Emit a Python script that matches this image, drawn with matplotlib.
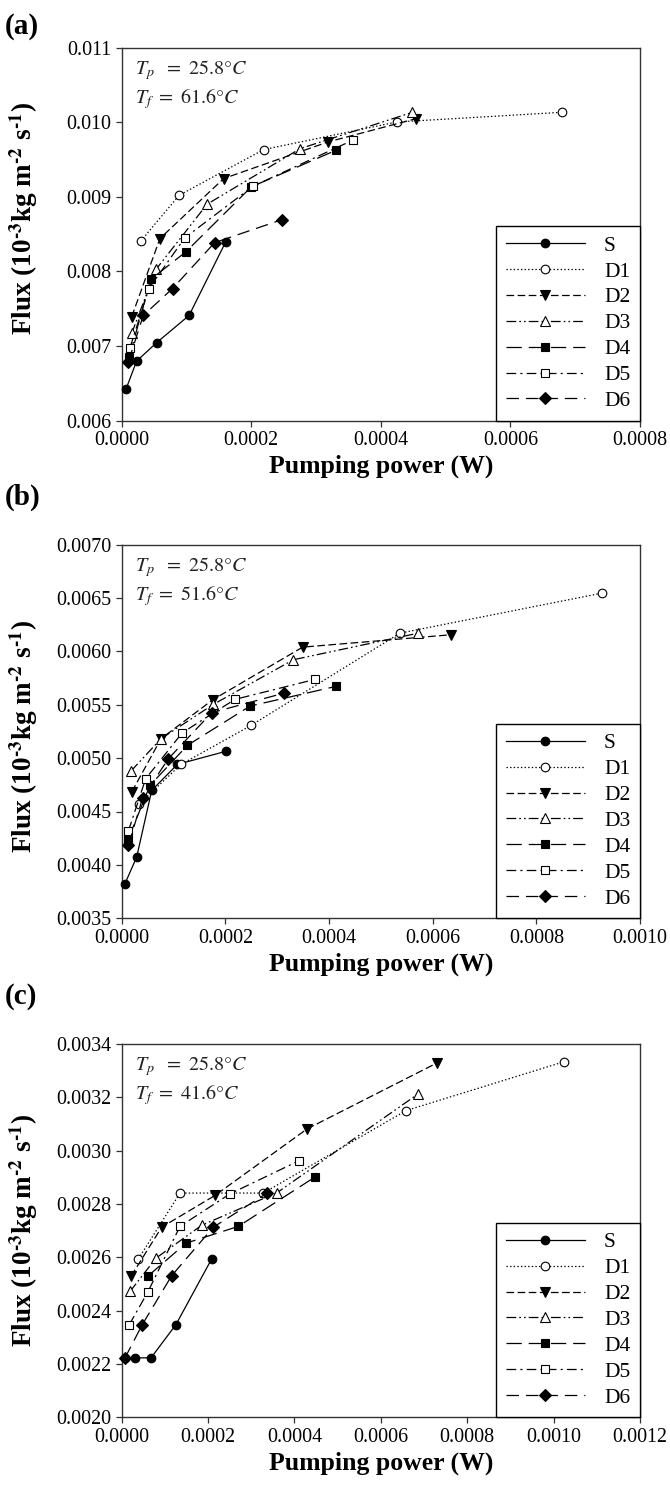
import matplotlib
matplotlib.use("Agg")
import matplotlib.pyplot as plt
from matplotlib.ticker import FormatStrFormatter, MultipleLocator

plt.rcParams["font.family"] = ["Liberation Serif", "DejaVu Serif"]
plt.rcParams["mathtext.fontset"] = "stix"
plt.rcParams["lines.scale_dashes"] = False

series = ["S", "D1", "D2", "D3", "D4", "D5", "D6"]

# ---- (a) Tf = 61.6 C ----
power_a = {
    "S":  [0.0000067, 0.000023, 0.0000538, 0.000104, 0.0001605],
    "D1": [0.0000292, 0.0000887, 0.000219, 0.0004246, 0.000679],
    "D2": [0.0000154, 0.000059, 0.0001574, 0.0003185, 0.000455],
    "D3": [0.0000154, 0.0000528, 0.0001318, 0.0002754, 0.0004487],
    "D4": [0.0000118, 0.0000446, 0.000099, 0.0002, 0.0003308],
    "D5": [0.0000128, 0.000042, 0.0000974, 0.0002026, 0.0003564],
    "D6": [0.0000103, 0.0000333, 0.0000785, 0.0001436, 0.0002477],
}
flux_a = {
    "S":  [0.006424, 0.006799, 0.007045, 0.007411, 0.008397],
    "D1": [0.008406, 0.009022, 0.009634, 0.010004, 0.010134],
    "D2": [0.007393, 0.008442, 0.009246, 0.009737, 0.010050],
    "D3": [0.007170, 0.008027, 0.008902, 0.009647, 0.010134],
    "D4": [0.006857, 0.007893, 0.008263, 0.009134, 0.009625],
    "D5": [0.006978, 0.007772, 0.008451, 0.009143, 0.009759],
    "D6": [0.006790, 0.007411, 0.007772, 0.008388, 0.008696],
}

# ---- (b) Tf = 51.6 C ----
power_b = {
    "S":  [0.0000064, 0.0000289, 0.0000579, 0.0001074, 0.0002006],
    "D1": [0.0000341, 0.0001145, 0.0002495, 0.000537, 0.000926],
    "D2": [0.0000193, 0.0000759, 0.0001756, 0.0003492, 0.0006354],
    "D3": [0.000018, 0.0000759, 0.0001768, 0.0003312, 0.0005723],
    "D4": [0.0000129, 0.0000547, 0.0001267, 0.0002476, 0.0004129],
    "D5": [0.0000129, 0.0000463, 0.000117, 0.0002186, 0.000373],
    "D6": [0.0000129, 0.0000405, 0.00009, 0.0001736, 0.0003138],
}
flux_b = {
    "S":  [0.003825, 0.004074, 0.004698, 0.004941, 0.005063],
    "D1": [0.004573, 0.004941, 0.005306, 0.006170, 0.006544],
    "D2": [0.004683, 0.005182, 0.005546, 0.006039, 0.006155],
    "D3": [0.004879, 0.005182, 0.005503, 0.005921, 0.006170],
    "D4": [0.004246, 0.004745, 0.005119, 0.005487, 0.005671],
    "D5": [0.004318, 0.004807, 0.005238, 0.005550, 0.005737],
    "D6": [0.004183, 0.004629, 0.004994, 0.005425, 0.005609],
}

# ---- (c) Tf = 41.6 C ----
power_c = {
    "S":  [0.0000077, 0.0000309, 0.0000679, 0.0001257, 0.0002083],
    "D1": [0.0000386, 0.000135, 0.0003278, 0.000658, 0.001025],
    "D2": [0.0000216, 0.0000926, 0.000216, 0.0004296, 0.0007289],
    "D3": [0.0000193, 0.0000794, 0.0001851, 0.0003602, 0.0006865],
    "D4": [0.0000617, 0.0001489, 0.00027, 0.0004474],
    "D5": [0.0000177, 0.0000602, 0.000135, 0.0002507, 0.0004103],
    "D6": [0.0000077, 0.0000478, 0.0001157, 0.0002121, 0.0003371],
}
flux_c = {
    "S":  [0.002223, 0.002223, 0.002223, 0.002348, 0.002594],
    "D1": [0.002594, 0.002841, 0.002841, 0.003150, 0.003334],
    "D2": [0.002529, 0.002713, 0.002832, 0.003082, 0.003328],
    "D3": [0.002472, 0.002597, 0.002720, 0.002843, 0.003213],
    "D4": [0.002531, 0.002653, 0.002716, 0.002901],
    "D5": [0.002348, 0.002469, 0.002716, 0.002838, 0.002962],
    "D6": [0.002223, 0.002348, 0.002531, 0.002713, 0.002841],
}

panel_letters = ["(a)", "(b)", "(c)"]
feed_temps = ["61.6", "51.6", "41.6"]
perm_temp = "25.8"
x_limits = [(0, 0.0008), (0, 0.0010), (0, 0.0012)]
y_limits = [(0.006, 0.011), (0.0035, 0.0070), (0.0020, 0.0034)]
y_steps = [0.001, 0.0005, 0.0002]
y_formats = ["%.3f", "%.4f", "%.4f"]

# marker / line style per series
styles = {
    "S":  dict(marker="o", mfc="black", ms=6.2, dashes=None),
    "D1": dict(marker="o", mfc="white", ms=6.2, dashes=(1.0, 1.6)),
    "D2": dict(marker="v", mfc="black", ms=7.2, dashes=(5.5, 2.5)),
    "D3": dict(marker="^", mfc="white", ms=7.2, dashes=(7, 2.2, 1.2, 2.2, 1.2, 2.2)),
    "D4": dict(marker="s", mfc="black", ms=5.7, dashes=(11, 5)),
    "D5": dict(marker="s", mfc="white", ms=5.7, dashes=(7, 3, 1.5, 3)),
    "D6": dict(marker="D", mfc="black", ms=5.7, dashes=(9, 5)),
}

W, H = 670, 1487
fig = plt.figure(figsize=(W / 100, H / 100), dpi=100)

ax_left, ax_right = 121.7, 640.0
ax_tops = [47.7, 544.5, 1044.0]
ax_bottoms = [420.7, 918.3, 1417.3]
ylabel_centers = [218, 736, 1230]
letter_centers = [27, 497, 997]

all_power = [power_a, power_b, power_c]
all_flux = [flux_a, flux_b, flux_c]

flux_label = "Flux (10$^{\\mathbf{\u20103}}$kg m$^{\\mathbf{\u20102}}$ s$^{\\mathbf{\u20101}}$)"

for i in range(3):
    top, bot = ax_tops[i], ax_bottoms[i]
    ax = fig.add_axes([ax_left / W, 1 - bot / H, (ax_right - ax_left) / W, (bot - top) / H])
    px, fx = all_power[i], all_flux[i]
    for name in series:
        st = styles[name]
        line, = ax.plot(px[name], fx[name], color="black", lw=0.9,
                        marker=st["marker"], ms=st["ms"], mfc=st["mfc"],
                        mec="black", mew=0.8, label=name, clip_on=False, zorder=3)
        if st["dashes"] is not None:
            line.set_dashes(st["dashes"])
    ax.set_xlim(*x_limits[i])
    ax.set_ylim(*y_limits[i])
    ax.xaxis.set_major_locator(MultipleLocator(0.0002))
    ax.yaxis.set_major_locator(MultipleLocator(y_steps[i]))
    ax.xaxis.set_major_formatter(FormatStrFormatter("%.4f"))
    ax.yaxis.set_major_formatter(FormatStrFormatter(y_formats[i]))
    ax.tick_params(direction="out", length=4.5, width=0.9, labelsize=14.4, pad=3,
                   top=False, right=False, color="#333333")
    for sp in ax.spines.values():
        sp.set_linewidth(1.0)
        sp.set_color("#333333")

    ax.text(0.025, 0.929, r"$T_p\ \ =\ %s\degree C$" % perm_temp, transform=ax.transAxes,
            fontsize=14.5, ha="left", va="baseline", color="#222222")
    ax.text(0.025, 0.852, r"$T_f\ =\ %s\degree C$" % feed_temps[i], transform=ax.transAxes,
            fontsize=14.5, ha="left", va="baseline", color="#222222")

    leg = ax.legend(loc="lower right", bbox_to_anchor=(1, 0), borderaxespad=0,
                    fontsize=15.5, handlelength=3.67, handletextpad=0.9,
                    borderpad=0.45, labelspacing=0.27, fancybox=False,
                    framealpha=1, edgecolor="black")
    leg.get_frame().set_linewidth(1.0)

    # axis titles
    fig.text((ax_left + ax_right) / 2 / W, 1 - (bot + 46) / H, "Pumping power (W)",
             ha="center", va="center", fontsize=18.5, fontweight="bold")
    fig.text(24 / W, 1 - ylabel_centers[i] / H, flux_label,
             ha="center", va="center", rotation=90, fontsize=19.5, fontweight="bold")
    fig.text(5 / W, 1 - letter_centers[i] / H, panel_letters[i], ha="left", va="center",
             fontsize=21, fontweight="bold")

fig.savefig("out.png", dpi=100)
